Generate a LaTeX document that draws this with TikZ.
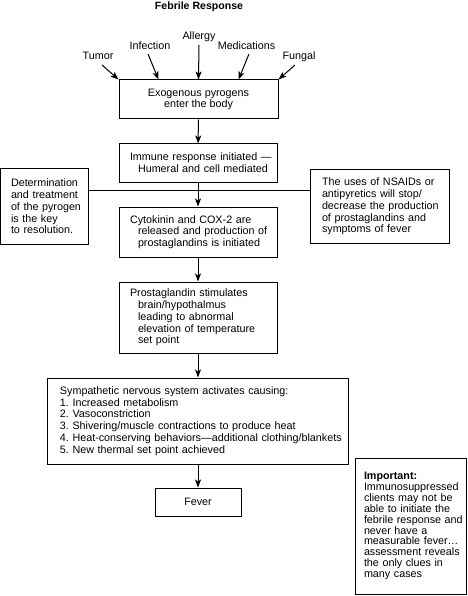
\documentclass[tikz,border=0pt]{standalone}
\usepackage{fontspec}
\setmainfont{Liberation Sans}
\usetikzlibrary{arrows.meta,calc}
\newcommand\bxl[1]{\mbox{#1}}
\begin{document}
\begin{tikzpicture}[x=1bp,y=-1bp,
  every node/.style={font=\fontsize{10.8}{11.8}\selectfont\frenchspacing},
  box/.style={draw, line width=1bp, inner sep=0pt, align=left},
  lbl/.style={anchor=base, inner sep=0pt},
  arr/.style={-{Stealth[length=8bp,width=6bp,inset=2bp]}, line width=1bp},
  ln/.style={line width=1bp}]
\useasboundingbox (0,0) rectangle (468,596);

\node[lbl, font=\bfseries\fontsize{10.6}{12}\selectfont] (title) at (199,10) {Febrile Response};

\node[lbl] (tumor) at (98,60) {Tumor};
\node[lbl] (infection) at (150,50) {Infection};
\node[lbl] (allergy) at (199,39.5) {Allergy};
\node[lbl] (medications) at (246.5,50) {Medications};
\node[lbl] (fungal) at (299,60) {Fungal};

\node[box, align=center, minimum width=159bp, minimum height=39bp] (b1) at (198.5,99.5)
  {Exogenous pyrogens\\enter the body};
\node[box, minimum width=158bp, minimum height=38bp, text width=136bp] (b2) at (198,163)
  {\bxl{Immune response initiated —}\\\bxl{\hspace*{8bp}Humeral and cell mediated}};
\node[box, minimum width=158bp, minimum height=50bp, text width=136bp] (b3) at (198,232)
  {\bxl{Cytokinin and COX-2 are}\\\bxl{\hspace*{8bp}released and production of}\\\bxl{\hspace*{8bp}prostaglandins is initiated}};
\node[box, minimum width=158bp, minimum height=71bp, text width=136bp] (b4) at (198,317.5)
  {\bxl{Prostaglandin stimulates}\\\bxl{\hspace*{8bp}brain/hypothalmus}\\\bxl{\hspace*{8bp}leading to abnormal}\\\bxl{\hspace*{8bp}elevation of temperature}\\\bxl{\hspace*{8bp}set point}};
\node[box, minimum width=300bp, minimum height=86bp, text width=276bp] (b5) at (198,421)
  {\bxl{Sympathetic nervous system activates causing:}\\\bxl{1. Increased metabolism}\\\bxl{2. Vasoconstriction}\\\bxl{3. Shivering/muscle contractions to produce heat}\\\bxl{4. Heat-conserving behaviors—additional clothing/blankets}\\\bxl{5. New thermal set point achieved}};
\node[box, align=center, minimum width=86bp, minimum height=28bp] (fever) at (198,502) {Fever};

\node[box, minimum width=87bp, minimum height=75bp, text width=67bp] (left) at (44.5,206.5)
  {\bxl{Determination}\\\bxl{and treatment}\\\bxl{of the pyrogen}\\\bxl{is the key}\\\bxl{to resolution.}};
\node[box, minimum width=139bp, minimum height=73bp, text width=115bp] (right) at (379.5,206.5)
  {\bxl{The uses of NSAIDs or}\\\bxl{antipyretics will stop/}\\\bxl{decrease the production}\\\bxl{of prostaglandins and}\\\bxl{symptoms of fever}};
\node[box, minimum width=111bp, minimum height=136bp, text width=93bp, font=\fontsize{10.8}{10.9}\selectfont] (imp) at (410.5,526)
  {\bxl{\textbf{Important:}}\\\bxl{Immunosuppressed}\\\bxl{clients may not be}\\\bxl{able to initiate the}\\\bxl{febrile response and}\\\bxl{never have a}\\\bxl{measurable fever…}\\\bxl{assessment reveals}\\\bxl{the only clues in}\\\bxl{many cases}};

\coordinate (hline) at (199,190);

\draw[arr] (tumor.base) ++(4,5) -- (b1.north west);
\draw[arr] (infection.base) ++(-2,4) -- ($(b1.north west)!0.25!(b1.north east)$);
\draw[arr] (allergy.base) ++(0,5.5) -- (b1.north);
\draw[arr] (medications.base) ++(2.5,4) -- ($(b1.north west)!0.75!(b1.north east)$);
\draw[arr] (fungal.base) ++(-4,5) -- (b1.north east);

\draw[arr] (b1) -- (b2);
\draw[arr] (b2) -- (b3);
\draw[arr] (b3) -- (b4);
\draw[arr] (b4) -- (b5);
\draw[arr] (b5) -- (fever);

\draw[ln] (left.east |- hline) -- (right.west |- hline);
\end{tikzpicture}
\end{document}
